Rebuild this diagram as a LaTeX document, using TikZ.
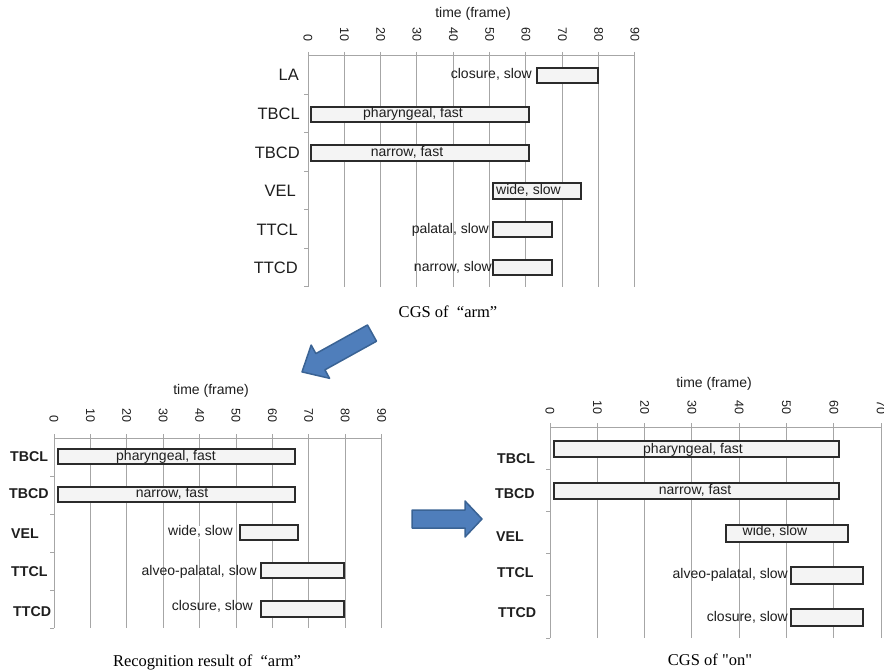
\documentclass[tikz,border=0pt]{standalone}
\usepackage{fontspec}
\setmainfont{Liberation Serif}
\newfontfamily\plainserif{Liberation Serif}
\newfontfamily\arialf{Liberation Sans}
\definecolor{gridc}{HTML}{A6A6A6}
\definecolor{barc}{HTML}{F4F4F4}
\definecolor{bard}{HTML}{2B2B2B}
\definecolor{txt}{HTML}{1E1E1E}
\definecolor{arrf}{HTML}{4F7EBB}
\definecolor{arrd}{HTML}{3A6394}
\begin{document}
\begin{tikzpicture}[x=1pt,y=-1pt,
 grid/.style={gridc, line width=1pt},
 bar/.style={draw=bard, fill=barc, line width=1.2pt},
 barlab/.style={font=\arialf\fontsize{14}{16}\selectfont, text=txt, inner sep=0pt, text height=10pt, text depth=3pt},
 rowlabT/.style={font=\arialf\fontsize{16.5}{18}\selectfont, text=txt, inner sep=0pt, anchor=east},
 rowlabB/.style={font=\arialf\bfseries\fontsize{14.2}{16}\selectfont, text=txt, inner sep=0pt, anchor=west},
 ticklab/.style={font=\arialf\fontsize{12.5}{14}\selectfont, text=txt, inner sep=0pt, rotate=-90, anchor=east},
 axtitle/.style={font=\arialf\fontsize{14}{16}\selectfont, text=txt, inner sep=0pt},
 caption/.style={font=\fontsize{16.5}{18}\selectfont, text=black, inner sep=0pt},
 blockarrow/.style={fill=arrf, draw=arrd, line width=1.5pt, line join=round}
]
\useasboundingbox (0,0) rectangle (884,671);
\fill[white] (0,0) rectangle (884,671);

% ---------------- top chart: CGS of "arm"
\foreach \k in {0,...,9} {
  \draw[grid] ({308+36.33*\k},52) -- ({308+36.33*\k},287);
  \pgfmathtruncatemacro\v{10*\k}
  \node[ticklab] (tt\k) at ({308+36.33*\k},42) {\v};
}
\draw[grid] (308,56) -- (635,56);
\foreach \j in {1,...,6} \draw[grid] (304,{56+38.5*\j}) -- (308,{56+38.5*\j});
\node[axtitle] (timeT) at (473,14) {time (frame)};

\draw[bar] (537,68) rectangle (598,83);
\draw[bar] (311,107) rectangle (529,122);
\draw[bar] (311,145) rectangle (529,161);
\draw[bar] (493,183) rectangle (581,199);
\draw[bar] (493,222) rectangle (552,237);
\draw[bar] (493,260) rectangle (552,275);

\node[rowlabT] (tLA) at (299,75) {LA};
\node[rowlabT] (tTBCL) at (300,114) {TBCL};
\node[rowlabT] (tTBCD) at (300,153) {TBCD};
\node[rowlabT] (tVEL) at (296,191) {VEL};
\node[rowlabT] (tTTCL) at (298,230) {TTCL};
\node[rowlabT] (tTTCD) at (298,268) {TTCD};

\node[barlab, anchor=east] (tl1) at (532,75) {closure, slow};
\node[barlab] (tl2) at (413,114) {pharyngeal, fast};
\node[barlab] (tl3) at (407,153) {narrow, fast};
\node[barlab, anchor=west] (tl4) at (496,191) {wide, slow};
\node[barlab, anchor=east] (tl5) at (489,230) {palatal, slow};
\node[barlab, anchor=east] (tl6) at (492,268) {narrow, slow};

\node[caption] (capT) at (448,312) {CGS of\ \ “arm”};

% ---------------- bottom-left chart: recognition result
\foreach \k in {0,...,9} {
  \draw[grid] ({54+36.4*\k},434) -- ({54+36.4*\k},628);
  \pgfmathtruncatemacro\v{10*\k}
  \node[ticklab] (lt\k) at ({54+36.4*\k},423) {\v};
}
\draw[grid] (54,438) -- (382,438);
\foreach \j in {1,...,5} \draw[grid] (50,{438+38*\j}) -- (54,{438+38*\j});
\node[axtitle] (timeL) at (211,391) {time (frame)};

\draw[bar] (58,449) rectangle (295,464);
\draw[bar] (58,487) rectangle (295,502);
\draw[bar] (240,525) rectangle (298,540);
\draw[bar] (261,563) rectangle (344,578);
\draw[bar] (261,601) rectangle (344,617);

\node[rowlabB] (lTBCL) at (10,457) {TBCL};
\node[rowlabB] (lTBCD) at (9,494) {TBCD};
\node[rowlabB] (lVEL) at (11,534) {VEL};
\node[rowlabB] (lTTCL) at (11,572) {TTCL};
\node[rowlabB] (lTTCD) at (13,612) {TTCD};

\node[barlab] (ll1) at (166,457) {pharyngeal, fast};
\node[barlab] (ll2) at (172,494) {narrow, fast};
\node[barlab, anchor=east, fill=white] (ll3) at (233,532) {wide, slow};
\node[barlab, anchor=east] (ll4) at (257,572) {alveo-palatal, slow};
\node[barlab, anchor=east] (ll5) at (253,607) {closure, slow};

\node[caption] (capL) at (207,662) {Recognition result of\ \ “arm”};

% ---------------- bottom-right chart: CGS of "on"
\foreach \k in {0,...,7} {
  \draw[grid] ({550+47.3*\k},423) -- ({550+47.3*\k},638);
  \pgfmathtruncatemacro\v{10*\k}
  \node[ticklab] (rt\k) at ({550+47.3*\k},415) {\v};
}
\draw[grid] (550,427) -- (881,427);
\foreach \j in {1,...,5} \draw[grid] (546,{427+42.2*\j}) -- (550,{427+42.2*\j});
\node[axtitle] (timeR) at (714,384) {time (frame)};

\draw[bar] (554,441) rectangle (839,457);
\draw[bar] (554,483) rectangle (839,499);
\draw[bar] (726,525) rectangle (848,542);
\draw[bar] (791,567) rectangle (863,584);
\draw[bar] (791,609) rectangle (863,626);

\node[rowlabB] (rTBCL) at (497,459) {TBCL};
\node[rowlabB] (rTBCD) at (495,494) {TBCD};
\node[rowlabB] (rVEL) at (496,537) {VEL};
\node[rowlabB] (rTTCL) at (497,573) {TTCL};
\node[rowlabB] (rTTCD) at (498,613) {TTCD};

\node[barlab] (rl1) at (693,450) {pharyngeal, fast};
\node[barlab] (rl2) at (695,491) {narrow, fast};
\node[barlab] (rl3) at (775,532) {wide, slow};
\node[barlab, anchor=east] (rl4) at (788,575) {alveo-palatal, slow};
\node[barlab, anchor=east] (rl5) at (788,618) {closure, slow};

\node[caption, font=\plainserif\fontsize{16.5}{18}\selectfont] (capR) at (710,660) {CGS of "on"};

% ---------------- block arrows
\begin{scope}[shift={(337,352.5)}, rotate=209]
  \draw[blockarrow] (-40pt,-9.3pt) -- (19pt,-9.3pt) -- (19pt,-19pt) -- (40pt,0pt)
     -- (19pt,19pt) -- (19pt,9.3pt) -- (-40pt,9.3pt) -- cycle;
\end{scope}
\draw[blockarrow] (412,510) -- (465,510) -- (465,501) -- (482,519) -- (465,537)
   -- (465,528) -- (412,528) -- cycle;
\end{tikzpicture}
\end{document}
